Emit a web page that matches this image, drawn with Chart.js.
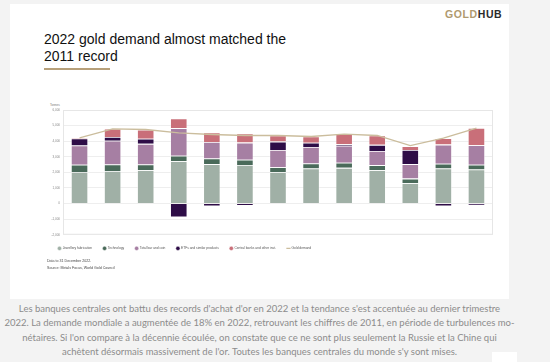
<!DOCTYPE html>
<html>
<head>
<meta charset="utf-8">
<script src="https://cdn.jsdelivr.net/npm/chart.js@4.4.0/dist/chart.umd.min.js"></script>
<style>
	html, body { margin: 0; padding: 0; }
	body { width: 550px; height: 362px; background: #f3f3f3; position: relative; overflow: hidden; }
	#card { position: absolute; left: 10px; top: 4px; width: 499px; height: 295px; background: #fff; }
	#brand { position: absolute; left: 445px; top: 8px; font: bold 10.5px "Liberation Sans", Arial, sans-serif; letter-spacing: 0.6px; }
	#brand .g { color: #b09a6e; }
	#brand .h { color: #2b2b2b; }
	#title { position: absolute; left: 44px; top: 31px; font: 14px/16.5px "Liberation Sans", Arial, sans-serif; color: #111; }
	#rule { position: absolute; left: 44px; top: 68px; width: 66px; height: 2px; background: #b7a07a; }
	#unit { position: absolute; left: 50px; top: 103px; font: 3px "Liberation Sans", Arial, sans-serif; color: #777; }
	#wrap { position: absolute; left: 30px; top: 100px; width: 470px; height: 160px; }
	#notes { position: absolute; left: 47px; top: 258px; font: 3.6px/6.5px "Liberation Sans", Arial, sans-serif; color: #444; }
	#caption { position: absolute; left: 0; top: 302px; width: 519px; text-align: center; white-space: nowrap; font: 9.5px/14.3px Lato, sans-serif; color: #8c8c8c; }
	#corner { position: absolute; left: 492px; top: 352px; width: 25px; height: 10px; background: #fff; }
</style>
</head>
<body>
<div id="card"></div>
<div id="brand"><span class="g">GOLD</span><span class="h">HUB</span></div>
<div id="title">2022 gold demand almost matched the<br>2011 record</div>
<div id="rule"></div>
<div id="unit">Tonnes</div>
<div id="wrap"><canvas id="barChart"></canvas></div>
<div id="notes">Data to 31 December 2022.<br>Source: Metals Focus, World Gold Council</div>
<div id="caption">Les banques centrales ont battu des records d'achat d'or en 2022 et la tendance s'est accentuée au dernier trimestre<br>2022. La demande mondiale a augmentée de 18% en 2022, retrouvant les chiffres de 2011, en période de turbulences mo-<br>nétaires. Si l'on compare à la décennie écoulée, on constate que ce ne sont plus seulement la Russie et la Chine qui<br>achètent désormais massivement de l'or. Toutes les banques centrales du monde s'y sont mises.</div>
<div id="corner"></div>
<script>
const years = ['2010', '2011', '2012', '2013', '2014', '2015', '2016', '2017', '2018', '2019', '2020', '2021', '2022'];
const jewellery = [2030, 2095, 2140, 2720, 2530, 2480, 2010, 2250, 2290, 2140, 1300, 2250, 2180];
const technology = [460, 410, 370, 350, 365, 330, 325, 325, 325, 325, 300, 300, 305];
const barAndCoin = [1230, 1530, 1320, 1770, 1060, 1100, 1100, 1060, 1100, 910, 930, 1230, 1250];
const etfs = [450, 240, 325, -880, -175, -150, 540, 260, 85, 390, 905, -175, -110];
const centralBanks = [80, 520, 580, 625, 605, 585, 390, 410, 650, 605, 240, 410, 1120];
const goldDemand = [4210, 4795, 4750, 4535, 4430, 4365, 4365, 4300, 4450, 4365, 3715, 4190, 4840];

const tickFont = { family: 'Liberation Sans', size: 3 };

// light frame round the plot area
const plotFrame = {
	id: 'plotFrame',
	beforeDatasetsDraw(chart) {
		const { ctx, chartArea } = chart;
		ctx.save();
		ctx.strokeStyle = '#e6e6e6';
		ctx.lineWidth = 1;
		ctx.strokeRect(chartArea.left + 0.5, chartArea.top + 0.5, chartArea.width - 1, chartArea.height - 1);
		ctx.restore();
	},
};

const makeBar = (label, data, color) => ({
	type: 'bar',
	label: label,
	data: data,
	backgroundColor: color,
	borderColor: 'rgba(255,255,255,0.55)',
	borderWidth: 0.8,
	stack: 'demand',
	order: 1,
	pointStyle: 'circle',
});

const datasets = [
	makeBar('Jewellery fabrication', jewellery, '#a0b0a6'),
	makeBar('Technology', technology, '#4a6a5a'),
	makeBar('Total bar and coin', barAndCoin, '#a67fa3'),
	makeBar('ETFs and similar products', etfs, '#2e0d47'),
	makeBar('Central banks and other inst.', centralBanks, '#c96f79'),
	{
		type: 'line',
		label: 'Gold demand',
		data: goldDemand,
		borderColor: '#cbbd9d',
		backgroundColor: '#cbbd9d',
		borderWidth: 1.3,
		pointRadius: 0,
		tension: 0,
		stack: 'total',
		order: 0,
		pointStyle: 'line',
	},
];

const config = {
	type: 'bar',
	data: { labels: years, datasets: datasets },
	options: {
		responsive: true,
		maintainAspectRatio: false,
		animation: false,
		layout: { padding: { top: 10, right: 7, left: 17, bottom: 0 } },
		datasets: { bar: { categoryPercentage: 1, barPercentage: 0.52 } },
		scales: {
			x: {
				stacked: true,
				grid: { display: false },
				border: { display: false },
				ticks: { font: tickFont, color: '#888', padding: 2 },
				afterFit: (scale) => { scale.height = 1; },
			},
			y: {
				stacked: true,
				min: -2000,
				max: 6000,
				grid: { color: '#eeeeee', drawTicks: false },
				border: { display: false },
				ticks: { stepSize: 1000, font: tickFont, color: '#888', padding: 3 },
				afterFit: (scale) => { scale.width = 16; },
			},
		},
		plugins: {
			legend: {
				position: 'bottom',
				align: 'start',
				labels: {
					usePointStyle: true,
					boxWidth: 3,
					boxHeight: 3,
					padding: 11,
					font: { family: 'Liberation Sans', size: 3.25 },
					color: '#555',
					sort: (a, b) => a.datasetIndex - b.datasetIndex,
				},
			},
			tooltip: { enabled: false },
		},
	},
	plugins: [plotFrame],
};

new Chart(document.getElementById('barChart').getContext('2d'), config);
</script>
</body>
</html>
